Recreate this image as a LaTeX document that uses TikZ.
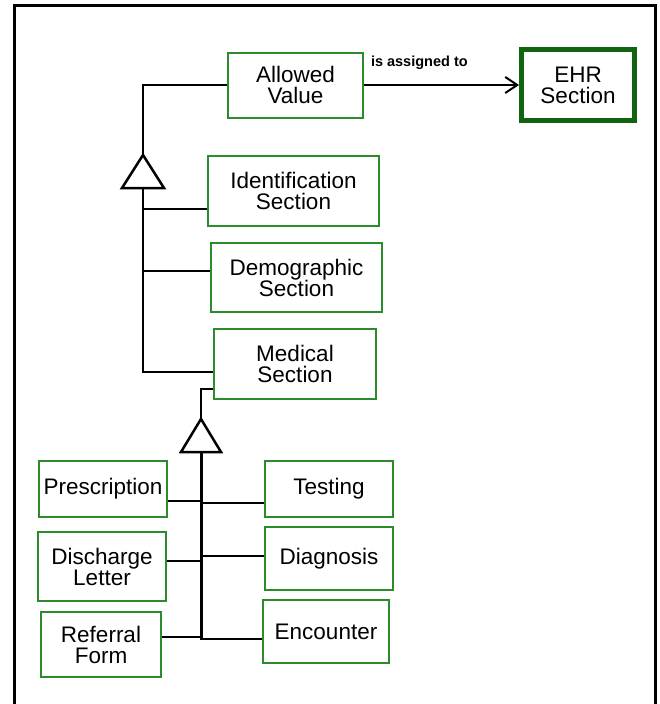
\documentclass[tikz,border=0pt]{standalone}
\usepackage{fontspec}
\setmainfont{Liberation Sans}
\usetikzlibrary{arrows.meta}
\definecolor{boxgreen}{RGB}{44,140,44}
\definecolor{ehrgreen}{RGB}{16,100,16}
\begin{document}
\begin{tikzpicture}[x=1pt,y=-1pt]
	\tikzstyle{every node}+=[inner sep=0pt]
	\tikzstyle{sect}=[draw=boxgreen, line width=2pt, align=center, font=\fontsize{22.5}{21}\selectfont]
	\tikzstyle{link}=[black, line width=2pt]
	\useasboundingbox (0,0) rectangle (659,704);
	\draw [black, line width=3pt] (14,704) -- (14,5) -- (655,5) -- (655,704);
	\node [sect, minimum width=135pt, minimum height=65pt] (av) at (295.5,85) {Allowed\\Value};
	\node [sect, draw=ehrgreen, line width=5pt, minimum width=113pt, minimum height=71pt] (ehr) at (578,85) {EHR\\Section};
	\node [sect, minimum width=171pt, minimum height=70pt] (ident) at (293.5,191) {Identification\\Section};
	\node [sect, minimum width=171pt, minimum height=69pt] (demo) at (296.5,277.5) {Demographic\\Section};
	\node [sect, minimum width=162pt, minimum height=70pt] (med) at (295,364) {Medical\\Section};
	\node [sect, minimum width=128pt, minimum height=56pt] (presc) at (103,489) {Prescription};
	\node [sect, minimum width=128pt, minimum height=56pt] (test) at (329,489) {Testing};
	\node [sect, minimum width=128pt, minimum height=69pt] (disch) at (102,566.5) {Discharge\\Letter};
	\node [sect, minimum width=128pt, minimum height=63pt] (diag) at (329,558.5) {Diagnosis};
	\node [sect, minimum width=120pt, minimum height=65pt] (refer) at (101,644.5) {Referral\\Form};
	\node [sect, minimum width=126pt, minimum height=63pt] (enc) at (326,631.5) {Encounter};
	\coordinate (ta) at (143,155);
	\coordinate (tb) at (143,188);
	\coordinate (ma) at (201,419);
	\coordinate (mb) at (201,452);
	\draw [link, line width=2.5pt] (ta) -- ([xshift=-21pt]tb) -- ([xshift=21pt]tb) -- cycle;
	\draw [link, line width=2.5pt] (ma) -- ([xshift=-20pt]mb) -- ([xshift=20pt]mb) -- cycle;
	\draw [link] (av.west) -| (ta);
	\draw [link] ([yshift=-18pt]ident.west) -| (tb);
	\draw [link] ([yshift=6.5pt]demo.west) -| (tb);
	\draw [link] ([yshift=-8pt]med.west) -| (tb);
	\draw [link] ([yshift=-25pt]med.west) -| (ma);
	\draw [link] ([yshift=-12pt]presc.east) -| (mb);
	\draw [link] ([yshift=-14pt]test.west) -| (mb);
	\draw [link] ([yshift=5.5pt]disch.east) -| (mb);
	\draw [link] ([yshift=2.5pt]diag.west) -| (mb);
	\draw [link] ([yshift=7.5pt]refer.east) -| (mb);
	\draw [link] ([yshift=-7.5pt]enc.west) -| (mb);
	\draw [link, line width=3pt] (mb) -- ([yshift=-7.5pt]enc.west -| mb);
	\draw [link, -{Straight Barb[length=12pt,width=16pt]}] (av.east) -- (ehr.west) node [pos=0, anchor=base west, xshift=6pt, yshift=19pt, font=\bfseries\fontsize{14.5}{14.5}\selectfont] {is assigned to};
\end{tikzpicture}
\end{document}
